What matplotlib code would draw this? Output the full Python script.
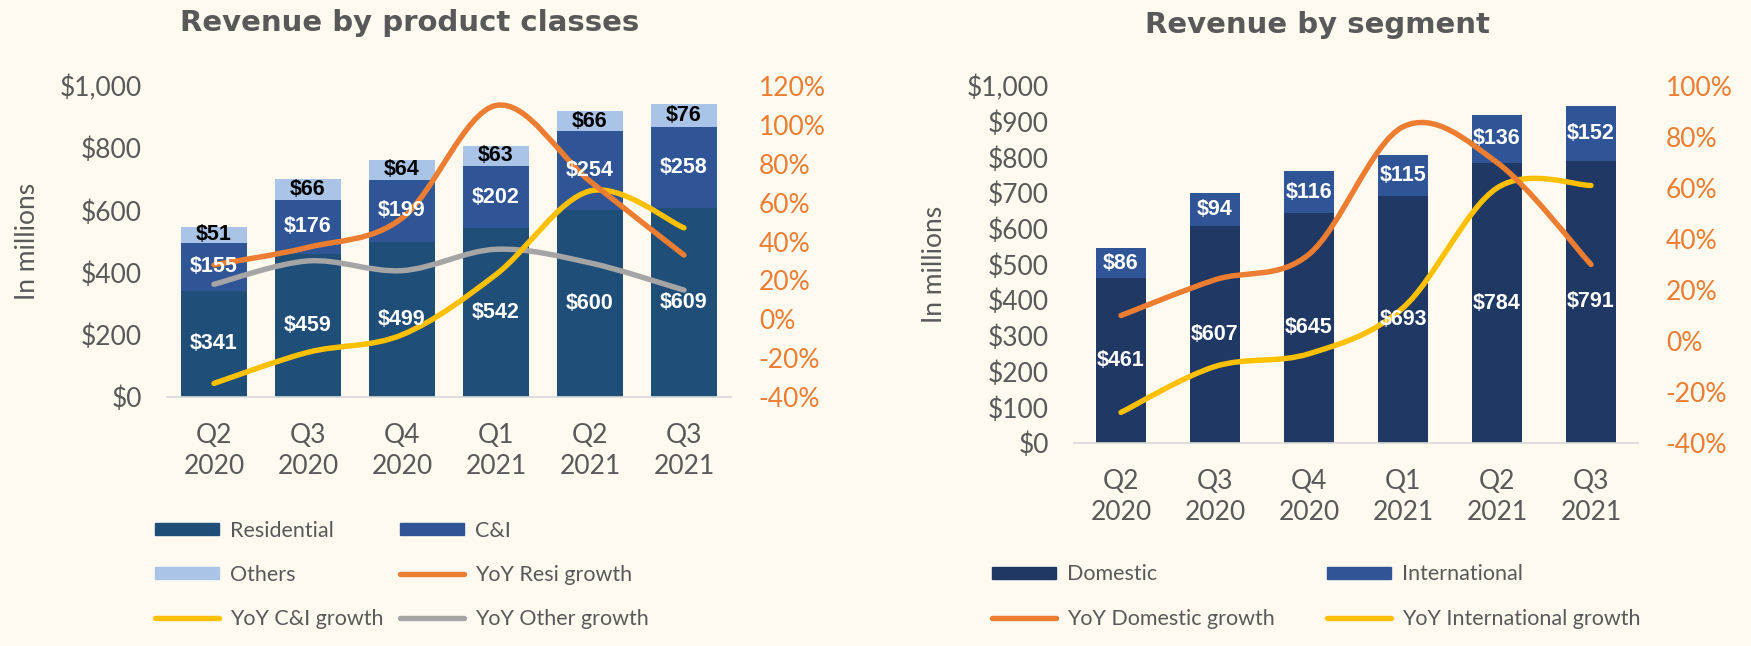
import matplotlib
matplotlib.use("Agg")
import matplotlib.pyplot as plt
import numpy as np
from matplotlib.lines import Line2D
from matplotlib.patches import Patch, PathPatch
from matplotlib.path import Path


QUARTERS = ["Q2\n2020", "Q3\n2020", "Q4\n2020", "Q1\n2021", "Q2\n2021", "Q3\n2021"]

# left chart: revenue by product class ($M) and YoY growth (%)
RESIDENTIAL = [341, 459, 499, 542, 600, 609]
CI = [155, 176, 199, 202, 254, 258]
OTHERS = [51, 66, 64, 63, 66, 76]
YOY_RESI = [28, 37, 52, 110, 71, 33]
YOY_CI = [-33, -17, -8, 23, 66, 47]
YOY_OTHER = [18, 30, 25, 36, 29, 15]

# right chart: revenue by segment ($M) and YoY growth (%)
DOMESTIC = [461, 607, 645, 693, 784, 791]
INTERNATIONAL = [86, 94, 116, 115, 136, 152]
YOY_DOMESTIC = [10, 24, 34, 84, 70, 30]
YOY_INTERNATIONAL = [-28, -10, -5, 13, 60, 61]

LEFT_TICKS = [0, 200, 400, 600, 800, 1000]
RIGHT_TICKS = [0, 100, 200, 300, 400, 500, 600, 700, 800, 900, 1000]

PALETTE = {
    "bg": "#FEFAF0",
    "text": "#595959",
    "axis": "#D9D9D9",
    "resi": "#1F4E79",
    "ci": "#2F5597",
    "others": "#A9C4E6",
    "domestic": "#1F3864",
    "intl": "#2F5597",
    "orange": "#ED7D31",
    "yellow": "#FFC000",
    "gray": "#A5A5A5",
}

W, H = 1751, 646
LABEL_FONT = ["Liberation Sans Narrow", "Liberation Sans", "DejaVu Sans"]


def smooth_path(xs, ys):
    # Excel-like smoothed line: cubic bezier through every point
    pts = np.column_stack([xs, ys]).astype(float)
    padded = np.vstack([pts[0], pts, pts[-1]])
    verts = [pts[0]]
    codes = [Path.MOVETO]
    for i in range(len(pts) - 1):
        p0, p1, p2, p3 = padded[i], padded[i + 1], padded[i + 2], padded[i + 3]
        verts += [p1 + (p2 - p0) / 6, p2 - (p3 - p1) / 6, p2]
        codes += [Path.CURVE4] * 3
    return Path(verts, codes)


def add_growth(ax, ax2, values, color):
    path = smooth_path(np.arange(len(values)), values)
    ax.add_patch(PathPatch(path, facecolor="none", edgecolor=color, lw=3.9,
                           capstyle="round", joinstyle="round",
                           transform=ax2.transData, zorder=2))


def style_ax(ax, ax2, ylim, ticks, ylim2, ticks2):
    for side in ["top", "left", "right"]:
        ax.spines[side].set_visible(False)
        ax2.spines[side].set_visible(False)
    ax2.spines["bottom"].set_visible(False)
    ax.spines["bottom"].set_color(PALETTE["axis"])
    ax.spines["bottom"].set_linewidth(1.2)
    ax.set_facecolor("none")
    ax.set_xlim(-0.5, 5.5)
    ax.set_ylim(*ylim)
    ax.set_yticks(ticks)
    ax.set_yticklabels([f"${t:,}" for t in ticks])
    ax.set_xticks(range(len(QUARTERS)))
    ax.set_xticklabels(QUARTERS, linespacing=1.3)
    ax.tick_params(axis="y", length=0, pad=18, labelsize=19, labelcolor=PALETTE["text"])
    ax.tick_params(axis="x", length=0, pad=19, labelsize=19, labelcolor=PALETTE["text"])
    ax2.set_ylim(*ylim2)
    ax2.set_yticks(ticks2)
    ax2.set_yticklabels([f"{t}%" for t in ticks2])
    ax2.tick_params(axis="y", length=0, pad=20, labelsize=19, labelcolor=PALETTE["orange"])
    ax.set_ylabel("In millions", fontsize=19, color=PALETTE["text"])
    ax.yaxis.set_label_coords(-0.225, 0.5)


def add_legend(fig, handles, x_px, y_px):
    fig.legend(handles=handles, loc="center left",
               bbox_to_anchor=(x_px / W, 1 - y_px / H),
               frameon=False, fontsize=15.5, labelcolor=PALETTE["text"],
               handlelength=2.95, handleheight=0.5, handletextpad=0.55,
               labelspacing=1.12, borderpad=0, borderaxespad=0)


def line_handle(color, label):
    return Line2D([], [], color=color, lw=3.9, solid_capstyle="round", label=label)


def bar_labels(ax, container, values, color):
    ax.bar_label(container, labels=[f"${v}" for v in values], label_type="center",
                 color=color, fontsize=15.5, fontweight="bold", family=LABEL_FONT, zorder=4)


def main():
    plt.rcParams["font.family"] = ["Lato", "DejaVu Sans"]

    fig = plt.figure(figsize=(W / 100, H / 100), dpi=100, facecolor=PALETTE["bg"])
    x = np.arange(len(QUARTERS))

    # ---- left: product classes
    ax = fig.add_axes([167 / W, 1 - 397 / H, 564 / W, 311 / H])
    ax2 = ax.twinx()
    ax.set_zorder(ax2.get_zorder() + 1)

    width = 0.71
    resi = np.array(RESIDENTIAL)
    ci = np.array(CI)
    b1 = ax.bar(x, resi, width, color=PALETTE["resi"], zorder=1)
    b2 = ax.bar(x, ci, width, bottom=resi, color=PALETTE["ci"], zorder=1)
    b3 = ax.bar(x, OTHERS, width, bottom=resi + ci, color=PALETTE["others"], zorder=1)
    style_ax(ax, ax2, (0, 1000), LEFT_TICKS, (-40, 120), list(range(-40, 121, 20)))
    add_growth(ax, ax2, YOY_OTHER, PALETTE["gray"])
    add_growth(ax, ax2, YOY_CI, PALETTE["yellow"])
    add_growth(ax, ax2, YOY_RESI, PALETTE["orange"])
    bar_labels(ax, b1, RESIDENTIAL, "white")
    bar_labels(ax, b2, CI, "white")
    bar_labels(ax, b3, OTHERS, "black")

    fig.text(410 / W, 1 - 23 / H, "Revenue by product classes", ha="center", va="center",
             fontsize=21, fontweight="bold", color=PALETTE["text"], family="DejaVu Sans")

    add_legend(fig, [Patch(color=PALETTE["resi"], label="Residential"),
                     Patch(color=PALETTE["others"], label="Others"),
                     line_handle(PALETTE["yellow"], "YoY C&I growth")], 155, 575)
    add_legend(fig, [Patch(color=PALETTE["ci"], label="C&I"),
                     line_handle(PALETTE["orange"], "YoY Resi growth"),
                     line_handle(PALETTE["gray"], "YoY Other growth")], 400, 575)

    # ---- right: segments
    ax = fig.add_axes([1074 / W, 1 - 443 / H, 564 / W, 357 / H])
    ax2 = ax.twinx()
    ax.set_zorder(ax2.get_zorder() + 1)

    width = 0.53
    b1 = ax.bar(x, DOMESTIC, width, color=PALETTE["domestic"], zorder=1)
    b2 = ax.bar(x, INTERNATIONAL, width, bottom=DOMESTIC, color=PALETTE["intl"], zorder=1)
    style_ax(ax, ax2, (0, 1000), RIGHT_TICKS, (-40, 100), list(range(-40, 101, 20)))
    add_growth(ax, ax2, YOY_INTERNATIONAL, PALETTE["yellow"])
    add_growth(ax, ax2, YOY_DOMESTIC, PALETTE["orange"])
    bar_labels(ax, b1, DOMESTIC, "white")
    bar_labels(ax, b2, INTERNATIONAL, "white")

    fig.text(1317 / W, 1 - 25 / H, "Revenue by segment", ha="center", va="center",
             fontsize=21, fontweight="bold", color=PALETTE["text"], family="DejaVu Sans")

    add_legend(fig, [Patch(color=PALETTE["domestic"], label="Domestic"),
                     line_handle(PALETTE["orange"], "YoY Domestic growth")], 992, 596.5)
    add_legend(fig, [Patch(color=PALETTE["intl"], label="International"),
                     line_handle(PALETTE["yellow"], "YoY International growth")], 1327, 596.5)

    fig.savefig("out.png", dpi=100, facecolor=fig.get_facecolor())
    plt.close(fig)


if __name__ == "__main__":
    main()
